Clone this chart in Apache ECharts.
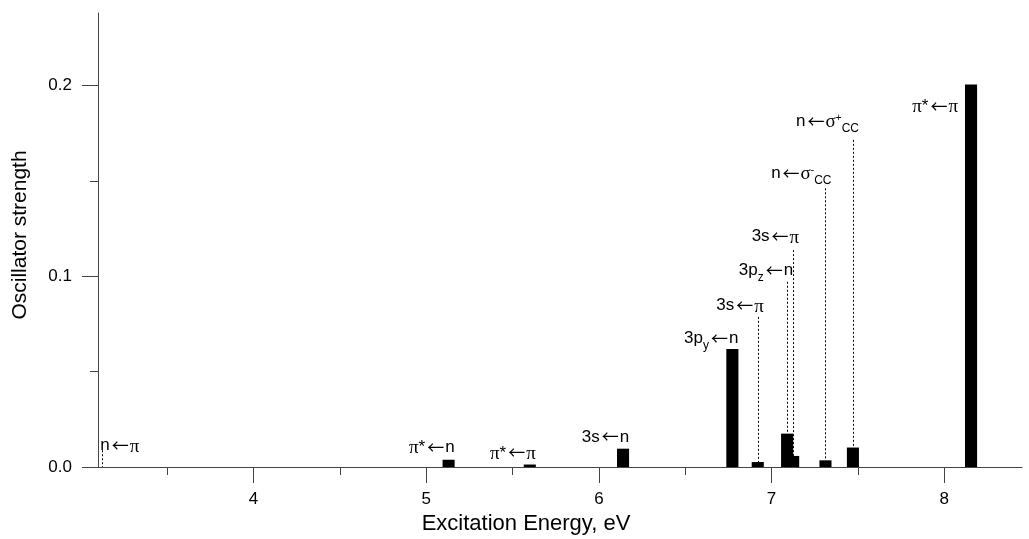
<!DOCTYPE html>
<html><head><meta charset="utf-8">
<script src="https://cdn.jsdelivr.net/npm/echarts@6/dist/echarts.min.js"></script>
<style>html,body{margin:0;padding:0;background:#fff}#c{width:1029px;height:539px}</style>
</head><body><div id="c"></div>
<script>
// ---- data ----
const energies   = [3.125, 5.130, 5.600, 6.140, 6.773, 6.920, 7.090, 7.125, 7.312, 7.471, 8.155];
const strengths  = [0.0, 0.0038, 0.0013, 0.0096, 0.0618, 0.0026, 0.0175, 0.0058, 0.0035, 0.0102, 0.2005];
const transitions = ['n←π', 'π*←n', 'π*←π', '3s←n', '3p_{y}←n', '3s←π', '3p_{z}←n', '3s←π',
                     'n←σ^{-}_{CC}', 'n←σ^{+}_{CC}', 'π*←π'];
// value level of each annotation's text baseline and of the top of its dotted guide
const labelLevels = [0.0077, 0.0070, 0.0040, 0.0124, 0.0639, 0.0812, 0.0996, 0.1174, 0.1505, 0.1778, 0.1857];
const guideTops   = [0.0088, null, null, null, null, 0.0787, 0.0971, 0.1137, 0.1461, 0.1715, null];
const xTicks      = [4, 5, 6, 7, 8];
const xMinorTicks = [3.5, 4.5, 5.5, 6.5, 7.5];
const yTicks      = [0, 0.1, 0.2];
const yMinorTicks = [0.05, 0.15];
const xRange = [3.1, 8.45];
const yRange = [0, 0.238];
const barWidthEv = 0.07;

// ---- styling / layout ----
const AXIS = '#444';
const SANS = 'Liberation Sans, Arial, sans-serif';
const SERIF = 'Liberation Serif, Times New Roman, serif';
const labelAnchor = {0: ['left', -2], 10: ['right', -13]}; // default: right edge at bar right edge
const rich = {
  m:   {fontFamily: SANS, fontSize: 17, verticalAlign: 'top', fill: '#000'},
  g:   {fontFamily: SERIF, fontSize: 19, verticalAlign: 'top', fill: '#000'},
  a:   {fontFamily: 'Noto Sans CJK SC, DejaVu Sans, sans-serif', fontSize: 17, verticalAlign: 'top', fill: '#000', padding: [0, 1, 0, 2]},
  sub: {fontFamily: SANS, fontSize: 12, verticalAlign: 'top', fill: '#000', padding: [10, 0, 0, 0]},
  sup: {fontFamily: SANS, fontSize: 10, verticalAlign: 'top', fill: '#000'}
};
function toRich(s) {
  let out = '', i = 0;
  while (i < s.length) {
    const c = s[i];
    if (c === '_' || c === '^') {
      const j = s.indexOf('}', i);
      out += '{' + (c === '_' ? 'sub' : 'sup') + '|' + s.slice(i + 2, j) + '}';
      i = j + 1;
    } else if (c === 'π' || c === 'σ') { out += '{g|' + c + '}'; i++; }
    else if (c === '←') { out += '{a|←}'; i++; }
    else {
      let j = i;
      while (j < s.length && !'_^πσ←'.includes(s[j])) j++;
      out += '{m|' + s.slice(i, j) + '}';
      i = j;
    }
  }
  return out;
}

function renderItem(params, api) {
  const i = params.dataIndex;
  const e = api.value(0), f = api.value(1);
  const base = api.coord([e, 0]);
  const top = api.coord([e, f]);
  const w = api.size([barWidthEv, 0])[0];
  const children = [];
  if (f > 0) {
    children.push({type: 'rect', shape: {x: base[0] - w / 2, y: top[1], width: w, height: base[1] - top[1]},
      style: {fill: '#000'}});
  }
  const g = guideTops[i];
  if (g != null) {
    const gp = api.coord([e, g]);
    const x = Math.round(base[0]) + 0.5;
    children.push({type: 'line', shape: {x1: x, y1: gp[1], x2: x, y2: top[1]},
      style: {stroke: '#000', lineWidth: 1, lineDash: [2, 2]}});
  }
  const lp = api.coord([e, labelLevels[i]]);
  const anc = labelAnchor[i] || ['right', w / 2];
  children.push({type: 'text', x: base[0] + anc[1], y: lp[1] - 15,
    style: {text: toRich(transitions[i]), rich: rich, align: anc[0], verticalAlign: 'top', fill: '#000'}});
  return {type: 'group', children};
}

const chart = echarts.init(document.getElementById('c'), null, {renderer: 'canvas'});
const xCommon = {type: 'value', min: xRange[0], max: xRange[1], position: 'bottom', splitLine: {show: false}};
const yCommon = {type: 'value', min: yRange[0], max: yRange[1], position: 'left', splitLine: {show: false}};
chart.setOption({
  animation: false,
  backgroundColor: '#fff',
  grid: {left: 98, right: 7, top: 13, bottom: 72, containLabel: false, outerBoundsMode: 'none'},
  xAxis: [
    Object.assign({}, xCommon, {
      axisLine: {lineStyle: {color: AXIS, width: 1}},
      axisTick: {customValues: xTicks, length: 16, lineStyle: {color: AXIS}},
      axisLabel: {customValues: xTicks, margin: 24, fontSize: 17, color: '#000', fontFamily: SANS},
      name: 'Excitation Energy, eV', nameLocation: 'middle', nameGap: 46,
      nameTextStyle: {fontSize: 22, fontFamily: SANS, color: '#000', padding: [0, 68, 0, 0]}
    }),
    Object.assign({}, xCommon, {
      axisLine: {show: false},
      axisTick: {customValues: xMinorTicks, length: 8, lineStyle: {color: AXIS}},
      axisLabel: {show: false}
    })
  ],
  yAxis: [
    Object.assign({}, yCommon, {
      axisLine: {lineStyle: {color: AXIS, width: 1}},
      axisTick: {customValues: yTicks, length: 16, lineStyle: {color: AXIS}},
      axisLabel: {customValues: yTicks, margin: 26, fontSize: 17, color: '#000', fontFamily: SANS,
        formatter: v => v.toFixed(1)},
      name: 'Oscillator strength', nameLocation: 'middle', nameGap: 67,
      nameTextStyle: {fontSize: 21, fontFamily: SANS, color: '#000', padding: [0, 0, 0, 10]}
    }),
    Object.assign({}, yCommon, {
      axisLine: {show: false},
      axisTick: {customValues: yMinorTicks, length: 8, lineStyle: {color: AXIS}},
      axisLabel: {show: false}
    })
  ],
  series: [{
    type: 'custom',
    renderItem: renderItem,
    clip: false,
    encode: {x: 0, y: 1},
    data: energies.map((e, i) => [e, strengths[i]])
  }]
});
</script></body></html>
